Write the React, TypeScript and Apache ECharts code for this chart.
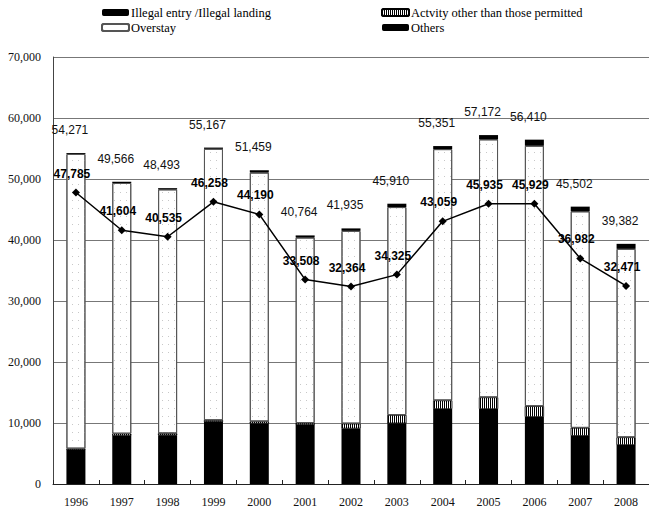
import React, { useEffect, useRef } from "react";
import * as echarts from "echarts";

const years = ["1996", "1997", "1998", "1999", "2000", "2001", "2002", "2003", "2004", "2005", "2006", "2007", "2008"];
const illegalEntry = [5600, 7900, 8000, 10200, 9900, 9700, 9100, 9950, 12300, 12300, 11000, 7900, 6400];
const activityOther = [200, 350, 300, 250, 350, 300, 800, 1350, 1400, 1900, 1750, 1300, 1250];
const overstay = [48300, 41100, 40000, 44500, 40800, 30400, 31600, 34100, 41200, 42300, 42700, 35500, 30900];
const others = [150, 200, 200, 200, 400, 350, 400, 550, 500, 700, 1000, 770, 820];
const totals = [54271, 49566, 48493, 55167, 51459, 40764, 41935, 45910, 55351, 57172, 56410, 45502, 39382];
const lineValues = [47785, 41604, 40535, 46258, 44190, 33508, 32364, 34325, 43059, 45935, 45929, 36982, 32471];

const SERIF = "'Liberation Serif', 'DejaVu Serif', serif";
const SANS = "'Liberation Sans', Arial, sans-serif";

export default function App() {
  const ref = useRef<HTMLDivElement>(null);
  useEffect(() => {
    document.body.style.margin = "0";
    const chart = echarts.init(ref.current!, null, { renderer: "svg" });
    const fmt = (v: number) => v.toLocaleString("en-US");
    const legendText = { fontFamily: SERIF, fontSize: 12.5, color: "#000", padding: [0, 0, 0, -3], lineHeight: 11 };
    chart.setOption({
      animation: false,
      backgroundColor: "#fff",
      legend: [
        {
          left: 101,
          top: 6,
          padding: 0,
          orient: "vertical",
          itemWidth: 27,
          itemHeight: 7,
          itemGap: 2,
          textStyle: legendText,
          data: ["Illegal entry /Illegal landing", "Overstay"],
        },
        {
          left: 381,
          top: 6,
          padding: 0,
          orient: "vertical",
          itemWidth: 27,
          itemHeight: 7,
          itemGap: 2,
          textStyle: legendText,
          data: ["Actvity other than those permitted", "Others"],
        },
      ],
      grid: { left: 53, right: -8, top: 57, bottom: 27 },
      xAxis: {
        type: "category",
        data: years,
        axisLine: { lineStyle: { color: "#222", width: 1 } },
        axisTick: { show: true, inside: true, length: 4, lineStyle: { color: "#222" } },
        axisLabel: { fontFamily: SERIF, fontSize: 12, color: "#111", margin: 12 },
      },
      yAxis: {
        type: "value",
        min: 0,
        max: 70000,
        interval: 10000,
        axisLine: { show: true, lineStyle: { color: "#444" } },
        axisTick: { show: false },
        splitLine: { lineStyle: { color: "#777", width: 1 } },
        axisLabel: {
          fontFamily: SERIF,
          fontSize: 12,
          color: "#111",
          margin: 12,
          formatter: (v: number) => fmt(v),
        },
      },
      series: [
        {
          name: "Illegal entry /Illegal landing",
          type: "bar",
          stack: "t",
          barWidth: 19,
          data: illegalEntry,
          itemStyle: { color: "#000" },
        },
        {
          name: "Actvity other than those permitted",
          type: "bar",
          stack: "t",
          data: activityOther,
          itemStyle: {
            color: "#fff",
            borderColor: "#000",
            borderWidth: 0.5,
            decal: {
              symbol: "rect",
              symbolSize: 1,
              color: "#000",
              dashArrayX: [1, 1],
              dashArrayY: [4, 0],
              rotation: 0,
            },
          },
        },
        {
          name: "Overstay",
          type: "bar",
          stack: "t",
          data: overstay,
          itemStyle: {
            color: "#fff",
            borderColor: "#555",
            borderWidth: 1,
            decal: {
              symbol: "rect",
              symbolSize: 1,
              color: "#c8c8c8",
              dashArrayX: [1, 5],
              dashArrayY: [1, 7],
              rotation: 0,
            },
          },
        },
        {
          name: "Others",
          type: "bar",
          stack: "t",
          data: others,
          itemStyle: { color: "#000" },
          label: {
            show: true,
            position: "top",
            distance: 17,
            offset: [-6, 0],
            fontFamily: SANS,
            fontSize: 12,
            color: "#111",
            formatter: (p: any) => fmt(totals[p.dataIndex]),
          },
        },
        {
          name: "Line",
          type: "line",
          data: lineValues,
          symbol: "diamond",
          symbolSize: 8,
          lineStyle: { color: "#000", width: 1.5 },
          itemStyle: { color: "#000" },
          z: 5,
          label: {
            show: true,
            position: "top",
            distance: 9,
            offset: [-4, 0],
            fontFamily: SANS,
            fontSize: 12,
            fontWeight: "bold",
            color: "#000",
            formatter: (p: any) => fmt(p.value),
          },
        },
      ],
    });
    return () => chart.dispose();
  }, []);
  return <div ref={ref} style={{ width: 649, height: 511 }} />;
}
